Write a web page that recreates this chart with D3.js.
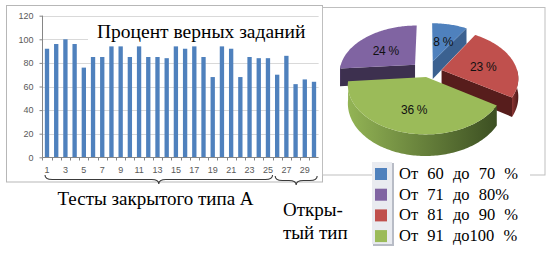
<!DOCTYPE html>
<html><head><meta charset="utf-8">
<script src="https://cdn.jsdelivr.net/npm/d3@7"></script>
<style>body{margin:0;background:#fff}svg{display:block}</style>
</head><body>
<svg id="c" width="554" height="259"></svg>
<script>
// ---- data ----
const categories = ["1","2","3","4","5","6","7","8","9","10","11","12","13","14","15","16","17","18","19","20","21","22","23","24","25","26","27","28","29","30"];
const percentCorrect = [92,96,100,96,76,85,85,94,94,85,94,85,85,84,94,92,94,85,68,94,92,68,85,84,84,70,86,62,66,64];
const yTickValues = [0,20,40,60,80,100,120];
const xTickLabels = ["1","3","5","7","9","11","13","15","17","19","21","23","25","27","29"];
const chartTitle = "Процент верных заданий";
const groupNames = [["Тесты закрытого типа А"], ["Откры-","тый тип"]];
const groupFrom = ["1","26"];
const groupTo = ["25","30"];

const pieNames = ["От 60 до 70 %", "От 71 до 80%", "От 81 до 90 %", "От 91 до100 %"];
const pieValues = [8, 24, 23, 36];
const pieValueLabels = ["8 %", "24 %", "23 %", "36 %"];
const pieClockwiseOrder = [0, 2, 3, 1];

// ---- styles ----
const pieTop = ["#4F81BD", "#8064A2", "#C0504D", "#9BBB59"];
const pieCut = ["#3b6190", "#3d304f", "#571d1c", "#4a6128"];
const pieWallA = ["#44709f", "#5a4675", "#8a3432", "#93b455"];
const pieWallB = ["#2e4a6e", "#3a2d4c", "#4e1a19", "#3c4f22"];
const explode = [18, 18, 14, 8];
const SERIF = '"Liberation Serif"';
const SANS = '"Liberation Sans"';

const svg = d3.select("#c");

// ================= BAR CHART =================
svg.append("rect").attr("x",6.5).attr("y",5.5).attr("width",316).attr("height",176.5)
  .attr("fill","#fff").attr("stroke","#b7b7b7");

const x = d3.scaleBand().domain(categories).range([42.4, 318.6]).paddingInner(0.53).paddingOuter(0.265);
const y = d3.scaleLinear().domain([0,120]).range([157.3, 15.7]);

const g = svg.append("g");
g.selectAll("line.grid").data(yTickValues.filter(v=>v>0)).join("line")
  .attr("x1",42).attr("x2",318.6).attr("y1",d=>Math.round(y(d))+0.5).attr("y2",d=>Math.round(y(d))+0.5)
  .attr("stroke","#d9d9d9");

g.selectAll("rect.bar").data(percentCorrect).join("rect")
  .attr("x",(d,i)=>x(categories[i])).attr("width",x.bandwidth())
  .attr("y",d=>y(d)).attr("height",d=>y(0)-y(d)).attr("fill","#4F81BD");

// white box behind title
g.append("rect").attr("x",88).attr("y",19).attr("width",232).attr("height",26).attr("fill","#fff");
g.append("text").style("font-family",SERIF).style("font-size","19.5px").attr("x",97).attr("y",37.5)
  .attr("fill","#000").text(chartTitle);

// y axis
const yAxis = d3.axisLeft(y).tickValues(yTickValues).tickSize(3).tickPadding(6);
const ya = g.append("g").attr("transform","translate(42.5,0)").call(yAxis);
ya.select(".domain").attr("stroke","#868686").attr("d","M0,15.7V157.3");
ya.selectAll(".tick line").attr("stroke","#868686");
ya.selectAll(".tick text").style("font-family",SANS).style("font-size","9px").attr("fill","#595959");

// x axis
const xAxis = d3.axisBottom(x).tickValues(xTickLabels).tickSize(0).tickPadding(9);
const xa = g.append("g").attr("transform",`translate(0,${Math.round(y(0))+0.5})`).call(xAxis);
xa.select(".domain").attr("stroke","#868686").attr("d","M42.4,0H318.6");
xa.selectAll(".tick text").style("font-family",SANS).style("font-size","9px").attr("fill","#595959");
g.selectAll("line.xt").data(categories).join("line")
  .attr("x1",d=>Math.round(x(d)-x.step()*0.265)+0.5).attr("x2",d=>Math.round(x(d)-x.step()*0.265)+0.5)
  .attr("y1",Math.round(y(0))+0.5).attr("y2",Math.round(y(0))+3.5).attr("stroke","#868686");

// braces
function brace(x0, x1, y0, q){
  const m = (x0+x1)/2, p = d3.path();
  p.moveTo(x0, y0);
  p.quadraticCurveTo(x0, y0+q, x0+q*1.6, y0+q);
  p.lineTo(m-q*1.6, y0+q);
  p.quadraticCurveTo(m, y0+q, m, y0+2*q);
  p.quadraticCurveTo(m, y0+q, m+q*1.6, y0+q);
  p.lineTo(x1-q*1.6, y0+q);
  p.quadraticCurveTo(x1, y0+q, x1, y0);
  return p.toString();
}
const braceY = [175, 176];
groupFrom.forEach((f,i)=>{
  const x0 = x(f) + x.bandwidth()/2 - 2;
  const last = categories.indexOf(groupTo[i]);
  const x1 = last < categories.length-1 ? (x(groupTo[i]) + x.bandwidth() + x(categories[last+1]))/2 : x(groupTo[i]) + x.bandwidth()+1;
  svg.append("path").attr("d", brace(x0, x1, braceY[i], 4.5)).attr("fill","none")
    .attr("stroke","#3a3a3a").attr("stroke-width",1.1);
});
// group labels
svg.append("text").style("font-family",SERIF).style("font-size","19px").attr("x",155.5).attr("y",205)
  .attr("text-anchor","middle").attr("fill","#000").text(groupNames[0][0]);
const gl = svg.append("text").style("font-family",SERIF).style("font-size","19px").attr("fill","#000");
groupNames[1].forEach((t,i)=> gl.append("tspan").attr("x",283).attr("y",216 + i*22.5).text(t));

// ================= PIE CHART =================
svg.append("rect").attr("x",322.5).attr("y",7.5).attr("width",222.5).attr("height",167.5)
  .attr("fill","#fff").attr("stroke","#bfbfbf");

const cx = 428, cy = 72, R = 76, tilt = 0.62, D = 500, H = 18;
function P(u, v, z){ const s = D/(D - v); return [cx + u*s, cy + (v*tilt + z)*s]; }

const ordered = pieClockwiseOrder.map(i=>({i, v: pieValues[i]}));
const arcs = d3.pie().sort(null).value(d=>d.v)(ordered);

const defs = svg.append("defs");
const slices = arcs.map(a=>{
  const i = a.data.i, b = (a.startAngle + a.endAngle)/2, e = explode[i];
  return {i, a0:a.startAngle, a1:a.endAngle, b, ou: e*Math.sin(b), ov: -e*Math.cos(b)};
});
function pt(s, th, r, z){ return P(s.ou + r*Math.sin(th), s.ov - r*Math.cos(th), z); }
function samples(a0, a1){ const n = Math.max(2, Math.ceil((a1-a0)/0.02)); return d3.range(n+1).map(k=>a0+(a1-a0)*k/n); }

const pg = svg.append("g");
slices.slice().sort((p,q)=>(-Math.cos(p.b)) - (-Math.cos(q.b))).forEach(s=>{
  const i = s.i;
  const apex0 = P(s.ou, s.ov, 0), apexH = P(s.ou, s.ov, H);
  [[s.a0, Math.sin(s.a0) < -1e-6], [s.a1, Math.sin(s.a1) > 1e-6]].forEach(([th, vis])=>{
    if(!vis) return;
    const o0 = pt(s, th, R, 0), oH = pt(s, th, R, H);
    pg.append("path").attr("d", d3.line()([apex0, o0, oH, apexH])+"Z").attr("fill", pieCut[i]);
  });
  const w0 = Math.max(s.a0, Math.PI/2), w1 = Math.min(s.a1, 3*Math.PI/2);
  if(w1 > w0){
    const ths = samples(w0, w1);
    const top = ths.map(t=>pt(s,t,R,0)), bot = ths.map(t=>pt(s,t,R,H)).reverse();
    const gid = "wg"+i;
    const xs = top.map(p=>p[0]);
    const lg = defs.append("linearGradient").attr("id",gid).attr("gradientUnits","userSpaceOnUse")
      .attr("x1", d3.min(xs)).attr("x2", d3.max(xs)).attr("y1",0).attr("y2",0);
    lg.append("stop").attr("offset",0).attr("stop-color",pieWallA[i]);
    lg.append("stop").attr("offset",1).attr("stop-color",pieWallB[i]);
    pg.append("path").attr("d", d3.line()(top.concat(bot))+"Z").attr("fill",`url(#${gid})`);
  }
  const pts = [apex0].concat(samples(s.a0, s.a1).map(t=>pt(s,t,R,0)));
  pg.append("path").attr("d", d3.line()(pts)+"Z").attr("fill", pieTop[i]);
});
slices.forEach(s=>{
  const p = pt(s, s.b, R*0.58, 0);
  pg.append("text").style("font-family",SANS).style("font-size","12px").attr("x",p[0]).attr("y",p[1]+3)
    .attr("dy","0.35em").attr("text-anchor","middle").attr("letter-spacing",-0.3).attr("fill","#111")
    .text(pieValueLabels[s.i]);
});

// legend
const lgd = svg.append("g");
lgd.append("rect").attr("x",372).attr("y",162).attr("width",158).attr("height",90).attr("fill","#fff");
lgd.append("rect").attr("x",373).attr("y",163).attr("width",21).attr("height",83).attr("fill","#b8bcc6");
lgd.append("rect").attr("x",372).attr("y",162).attr("width",20).attr("height",82).attr("fill","#e9ebf0");
pieNames.forEach((n,i)=>{
  const by = 179 + i*20.7;
  lgd.append("rect").attr("x",375).attr("y",by-11).attr("width",12).attr("height",12).attr("fill",pieTop[i]);
  lgd.append("text").style("font-family",SERIF).style("font-size","16.5px").attr("x",399).attr("y",by)
    .attr("word-spacing",5).attr("fill","#000").text(n);
});
</script>
</body></html>
